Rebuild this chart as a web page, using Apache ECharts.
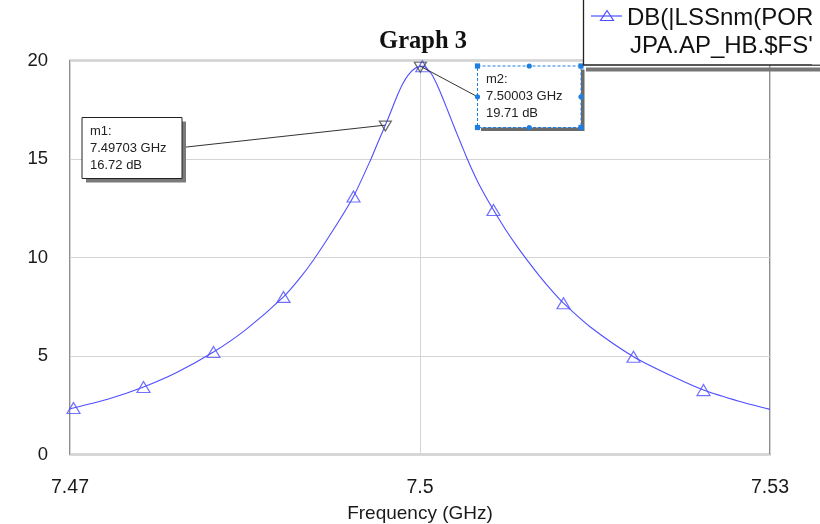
<!DOCTYPE html>
<html>
<head>
<meta charset="utf-8">
<script src="https://cdn.jsdelivr.net/npm/echarts@6/dist/echarts.min.js"></script>
<style>
html,body{margin:0;padding:0;background:#fff;}
#c{width:820px;height:524px;}
</style>
</head>
<body>
<div id="c"></div>
<script>
// ---- data ----
const freq = [7.4700, 7.4703, 7.4733, 7.4763, 7.4791, 7.4823, 7.4851, 7.4883, 7.4897, 7.4909,
              7.4926, 7.4943, 7.4958, 7.4964, 7.49703, 7.4975, 7.4980, 7.4985, 7.4990, 7.4995,
              7.5000, 7.5003, 7.5005, 7.5010, 7.5015, 7.5020, 7.5025, 7.5030, 7.5035, 7.5040,
              7.5045, 7.5050, 7.5056, 7.5063, 7.5073, 7.5083, 7.5093, 7.5103, 7.5113, 7.5123,
              7.5146, 7.5183, 7.5214, 7.5243, 7.5274, 7.5300];
const gain = [2.31, 2.36, 2.82, 3.43, 4.15, 5.20, 6.35, 8.00, 8.95, 9.90,
              11.43, 13.10, 15.00, 15.85, 16.72, 17.40, 18.15, 18.80, 19.27, 19.57,
              19.70, 19.71, 19.64, 19.30, 18.72, 18.02, 17.27, 16.52, 15.80, 15.08,
              14.40, 13.78, 13.12, 12.41, 11.45, 10.58, 9.78, 9.02, 8.32, 7.68,
              6.47, 4.96, 4.03, 3.27, 2.69, 2.29];
const symFreq = [7.4703, 7.4763, 7.4823, 7.4883, 7.4943, 7.5002, 7.5063, 7.5123, 7.5183, 7.5243];
const symGain = [2.36, 3.43, 5.20, 8.00, 13.10, 19.71, 12.41, 7.68, 4.96, 3.27];
const mkNames = ['m1', 'm2'];
const mkFreq = [7.49703, 7.50003];
const mkGain = [16.72, 19.71];
const xTicks = [7.47, 7.5, 7.53];
const yTicks = [0, 5, 10, 15, 20];
const legendLines = ['DB(|LSSnm(PORT_2,1,PORT_1,1)|)', "JPA.AP_HB.$FS'WP"];
const titleText = 'Graph 3';
const xName = 'Frequency (GHz)';

const BLUE = '#4f4fff';
const chart = echarts.init(document.getElementById('c'), null, {renderer: 'canvas'});

const fmtX = v => {
  const n = xTicks.find(t => Math.abs(t - v) < 1e-6);
  return n !== undefined ? String(n) : '';
};
const FONT = 'Liberation Sans, Arial, sans-serif';

chart.setOption({
  animation: false,
  backgroundColor: '#fff',
  grid: {left: 70, right: 50, top: 60.5, bottom: 69.5, show: true, containLabel: false,
         outerBoundsMode: 'none',
         borderColor: '#6a6a6a', borderWidth: 1.5, backgroundColor: 'transparent'},
  xAxis: {
    type: 'value', min: xTicks[0], max: xTicks[xTicks.length - 1], interval: 0.03,
    axisLine: {show: false}, axisTick: {show: false},
    splitLine: {show: true, lineStyle: {color: '#d4d4d4', width: 1}},
    axisLabel: {margin: 23, fontSize: 19.5, color: '#1a1a1a', fontFamily: FONT,
                formatter: fmtX, showMinLabel: true, showMaxLabel: true},
    name: xName, nameLocation: 'middle', nameGap: 50,
    nameTextStyle: {fontSize: 19, color: '#1a1a1a', fontFamily: FONT}
  },
  yAxis: {
    type: 'value', min: yTicks[0], max: yTicks[yTicks.length - 1], interval: 5,
    axisLine: {show: false}, axisTick: {show: false},
    splitLine: {show: true, lineStyle: {color: '#d4d4d4', width: 1}},
    axisLabel: {margin: 22, fontSize: 18.5, color: '#1a1a1a', fontFamily: FONT}
  },
  series: [
    {type: 'line', data: freq.map((f, i) => [f, gain[i]]), showSymbol: false, symbol: 'none',
     smooth: 0.25, lineStyle: {color: BLUE, width: 1.1}, z: 3},
    {type: 'scatter', data: symFreq.map((f, i) => [f, symGain[i]]), symbol: 'triangle',
     symbolSize: [13, 11], itemStyle: {color: 'rgba(0,0,0,0)', borderColor: BLUE, borderWidth: 1.2}, z: 4},
    {type: 'scatter', data: mkFreq.map((f, i) => [f, mkGain[i]]), symbol: 'triangle', symbolRotate: 180,
     symbolSize: [12, 10], symbolOffset: [0, 1],
     itemStyle: {color: 'rgba(0,0,0,0)', borderColor: '#444', borderWidth: 1.2}, z: 5}
  ]
});

const p1 = chart.convertToPixel({gridIndex: 0}, [mkFreq[0], mkGain[0]]);
const p2 = chart.convertToPixel({gridIndex: 0}, [mkFreq[1], mkGain[1]]);

function boxText(x, y, lines) {
  return lines.map((t, i) => ({type: 'text', x: x, y: y + i * 17, z: 20,
    style: {text: t, fontSize: 13, fontFamily: FONT, fill: '#222', verticalAlign: 'middle'}}));
}
function handle(x, y, round) {
  return round
    ? {type: 'circle', shape: {cx: x, cy: y, r: 2.6}, style: {fill: '#1f7fe0'}, z: 22}
    : {type: 'rect', shape: {x: x - 2.6, y: y - 2.6, width: 5.2, height: 5.2}, style: {fill: '#1f7fe0'}, z: 22};
}

const b1 = {x: 82, y: 117.5, w: 100, h: 61};
const b2 = {x: 477.5, y: 66, w: 103.5, h: 61.5};

const g = [];
g.push({type: 'text', x: 423, y: 42, z: 20,
  style: {text: titleText, fontSize: 24.5, fontWeight: 'bold', fontFamily: 'Liberation Serif, Times New Roman, serif',
          fill: '#111', align: 'center', verticalAlign: 'middle'}});
g.push({type: 'line', shape: {x1: b1.x + b1.w, y1: b1.y + 30, x2: p1[0], y2: p1[1]}, style: {stroke: '#333', lineWidth: 1}, z: 15});
g.push({type: 'rect', shape: {x: b1.x + 4, y: b1.y + 4, width: b1.w, height: b1.h}, style: {fill: '#7a7a7a'}, z: 16});
g.push({type: 'rect', shape: {x: b1.x, y: b1.y, width: b1.w, height: b1.h}, style: {fill: '#fff', stroke: '#222', lineWidth: 1}, z: 17});
g.push(...boxText(b1.x + 8, b1.y + 13.5, [mkNames[0] + ':', mkFreq[0].toFixed(5) + ' GHz', mkGain[0].toFixed(2) + ' dB']));
g.push({type: 'line', shape: {x1: b2.x, y1: b2.y + b2.h / 2, x2: p2[0], y2: p2[1]}, style: {stroke: '#333', lineWidth: 1}, z: 15});
g.push({type: 'rect', shape: {x: b2.x + 3.5, y: b2.y + 3.5, width: b2.w, height: b2.h}, style: {fill: '#6a6a6a'}, z: 16});
g.push({type: 'rect', shape: {x: b2.x, y: b2.y, width: b2.w, height: b2.h},
  style: {fill: '#fff', stroke: '#1f7fe0', lineWidth: 1, lineDash: [3, 2]}, z: 17});
g.push(...boxText(b2.x + 8.5, b2.y + 13.5, [mkNames[1] + ':', mkFreq[1].toFixed(5) + ' GHz', mkGain[1].toFixed(2) + ' dB']));
[[0, 0, 0], [0.5, 0, 1], [1, 0, 0], [0, 0.5, 1], [1, 0.5, 1], [0, 1, 0], [0.5, 1, 1], [1, 1, 0]].forEach(h => {
  g.push(handle(b2.x + h[0] * b2.w, b2.y + h[1] * b2.h, h[2]));
});
g.push({type: 'rect', shape: {x: 586, y: 67.5, width: 240, height: 4}, style: {fill: '#777'}, z: 24});
g.push({type: 'rect', shape: {x: 583.5, y: -5, width: 260, height: 70}, style: {fill: '#fff', stroke: '#222', lineWidth: 1.3}, z: 25});
g.push({type: 'line', shape: {x1: 591, y1: 16, x2: 622, y2: 16}, style: {stroke: BLUE, lineWidth: 1.2}, z: 26});
g.push({type: 'polygon', shape: {points: [[607, 10.5], [600.5, 20.5], [613.5, 20.5]]},
  style: {fill: 'rgba(0,0,0,0)', stroke: BLUE, lineWidth: 1.2}, z: 26});
g.push({type: 'text', x: 627, y: 18, z: 26,
  style: {text: legendLines[0], fontSize: 24, fontFamily: FONT, fill: '#111', verticalAlign: 'middle'}});
g.push({type: 'text', x: 630, y: 46, z: 26,
  style: {text: legendLines[1], fontSize: 24, fontFamily: FONT, fill: '#111', verticalAlign: 'middle'}});
g.push({type: 'rect', shape: {x: 812, y: 0, width: 10, height: 64.5}, style: {fill: '#fff'}, z: 27});

chart.setOption({graphic: g});
</script>
</body>
</html>
